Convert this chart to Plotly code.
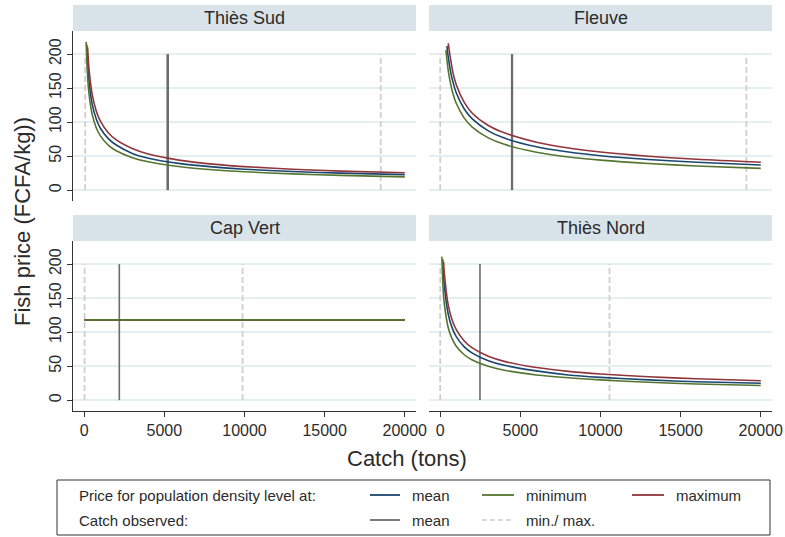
import plotly.graph_objects as go
from plotly.subplots import make_subplots

# ---------------- data ----------------
regions = ["Thiès Sud", "Fleuve", "Cap Vert", "Thiès Nord"]

# Thiès Sud price curves (catch in tons, price FCFA/kg)
ts_mean_q = [160, 220, 300, 500, 750, 1000, 1500, 2000, 3000, 4000, 6000, 8000, 10000, 13000, 16000, 20000]
ts_mean_p = [214, 184.6, 159.8, 126, 104.5, 91.4, 75.8, 66.3, 54, 47, 39, 34.2, 30.8, 27.3, 25, 22.8]
ts_min_q = [120, 200, 300, 500, 750, 1000, 1500, 2000, 3000, 4000, 6000, 8000, 10000, 13000, 16000, 20000]
ts_min_p = [218, 171.3, 141.5, 111, 91.8, 80.1, 66.2, 57.8, 47.7, 41.6, 34.4, 30.0, 27.0, 23.9, 21.7, 19.5]
ts_max_q = [210, 300, 500, 750, 1000, 1500, 2000, 3000, 4000, 6000, 8000, 10000, 13000, 16000, 20000]
ts_max_p = [210, 178, 140.5, 116.5, 101.9, 84.5, 73.9, 61.3, 53, 43.8, 38.3, 34.6, 30.8, 28, 25.5]

# Fleuve
fl_mean_q = [420, 500, 650, 800, 1000, 1500, 2000, 3000, 4000, 6000, 8000, 10000, 13000, 16000, 20000]
fl_mean_p = [212, 196, 174, 158.5, 143.2, 119.3, 104.7, 87.2, 76.5, 63.7, 56.0, 50.6, 45.0, 40.9, 37]
fl_min_q = [355, 500, 650, 800, 1000, 1500, 2000, 3000, 4000, 6000, 8000, 10000, 13000, 16000, 20000]
fl_min_p = [206, 176, 155.8, 141.5, 127.7, 105.9, 92.7, 76.8, 67.3, 55.8, 48.8, 44.1, 39.1, 35.5, 32]
fl_max_q = [500, 650, 800, 1000, 1500, 2000, 3000, 4000, 6000, 8000, 10000, 13000, 16000, 20000]
fl_max_p = [216, 191.9, 172, 155, 129, 113, 95, 84.2, 70.5, 61.9, 56.0, 49.8, 45.3, 41]

# Cap Vert (flat)
cv_mean_q = [0, 20000]
cv_mean_p = [118, 118]
cv_min_q = [0, 20000]
cv_min_p = [118, 118]
cv_max_q = [0, 20000]
cv_max_p = [118, 118]

# Thiès Nord
tn_mean_q = [160, 250, 500, 750, 1000, 1500, 2000, 3000, 4000, 6000, 8000, 10000, 13000, 16000, 20000]
tn_mean_p = [207, 170.5, 126.3, 105.9, 93.4, 78.4, 69.2, 58.0, 51.2, 43.0, 37, 33.5, 29.8, 27, 24.8]
tn_min_q = [100, 170, 250, 500, 750, 1000, 1500, 2000, 3000, 4000, 6000, 8000, 10000, 13000, 16000, 20000]
tn_min_p = [211, 168.4, 143, 106.5, 89.6, 79.3, 66.7, 59.0, 49.7, 44.0, 37.0, 32.8, 29.8, 26.2, 23.8, 21.5]
tn_max_q = [210, 250, 500, 750, 1000, 1500, 2000, 3000, 4000, 6000, 8000, 10000, 13000, 16000, 20000]
tn_max_p = [203, 188.4, 139.6, 117.3, 103.6, 87.0, 76.8, 64.5, 57.0, 47.9, 42.3, 38.4, 34.3, 31.4, 28.5]

# observed catch (tons)
catch_min = [60, 0, 20, 0]
catch_mean = [5210, 4480, 2190, 2480]
catch_max = [18500, 19100, 9880, 10560]
vline_p = [0, 200]

x_ticks = [0, 5000, 10000, 15000, 20000]
x_tick_labels = ["0", "5000", "10000", "15000", "20000"]
y_ticks = [0, 50, 100, 150, 200]
y_tick_labels = ["0", "50", "100", "150", "200"]

curves = {
    "Thiès Sud": [(ts_mean_q, ts_mean_p, "mean"), (ts_max_q, ts_max_p, "max"), (ts_min_q, ts_min_p, "min")],
    "Fleuve": [(fl_mean_q, fl_mean_p, "mean"), (fl_max_q, fl_max_p, "max"), (fl_min_q, fl_min_p, "min")],
    "Cap Vert": [(cv_mean_q, cv_mean_p, "mean"), (cv_max_q, cv_max_p, "max"), (cv_min_q, cv_min_p, "min")],
    "Thiès Nord": [(tn_mean_q, tn_mean_p, "mean"), (tn_max_q, tn_max_p, "max"), (tn_min_q, tn_min_p, "min")],
}

# ---------------- style ----------------
W, H = 785, 537
ML, MR, MT, MB = 73, 13, 5, 126
FONT = "Liberation Sans, Arial, sans-serif"
TXT = "#2b2b2b"
COL = {"mean": "#1a476f", "min": "#55752f", "max": "#90353b"}
MEAN_CATCH_COL = "#6c6c6c"
MINMAX_COL = "#cfcfcf"
GRID = "#e6eff0"
STRIP = "#d9e3ea"
mean_catch_width = [2.6, 2.3, 1.6, 1.6]


def px_x(px):
    return (px - ML) / (W - ML - MR)


def px_y(py):
    return (H - MB - py) / (H - MT - MB)


fig = make_subplots(rows=2, cols=2)

pos = [(1, 1), (1, 2), (2, 1), (2, 2)]
for i, reg in enumerate(regions):
    r, c = pos[i]
    for cx in (catch_min[i], catch_max[i]):
        fig.add_trace(go.Scatter(x=[cx, cx], y=vline_p, mode="lines",
                                 line=dict(color=MINMAX_COL, width=1.8, dash="6px,3px"),
                                 showlegend=False, hoverinfo="skip"), row=r, col=c)
    fig.add_trace(go.Scatter(x=[catch_mean[i], catch_mean[i]], y=vline_p, mode="lines",
                             line=dict(color=MEAN_CATCH_COL, width=mean_catch_width[i]),
                             showlegend=False, hoverinfo="skip"), row=r, col=c)
    for q, p, k in curves[reg]:
        fig.add_trace(go.Scatter(x=q, y=p, mode="lines",
                                 line=dict(color=COL[k], width=1.6, shape="spline", smoothing=0.8),
                                 showlegend=False), row=r, col=c)

xdom_l = [0, px_x(416)]
xdom_r = [px_x(429), 1]
ydom_t = [px_y(201), px_y(31)]
ydom_b = [0, px_y(241)]

axis_common_x = dict(range=[-700, 20700], showgrid=False, zeroline=False, automargin=False,
                     tickmode="array", tickvals=x_ticks, ticktext=x_tick_labels,
                     tickfont=dict(size=16, color=TXT, family=FONT))
axis_common_y = dict(range=[-16, 234], showgrid=True, gridcolor=GRID, gridwidth=1.5, zeroline=False,
                     automargin=False, tickmode="array", tickvals=y_ticks, ticktext=y_tick_labels,
                     tickfont=dict(size=16, color=TXT, family=FONT))

layout_axes = {}
for i in range(4):
    r, c = pos[i]
    n = "" if i == 0 else str(i + 1)
    xa = dict(axis_common_x, domain=xdom_l if c == 1 else xdom_r, anchor="y" + n)
    ya = dict(axis_common_y, domain=ydom_t if r == 1 else ydom_b, anchor="x" + n)
    if r == 2:
        xa.update(showline=True, linecolor="#333333", linewidth=1.2, ticks="outside", ticklen=5,
                  tickcolor="#333333", showticklabels=True)
    else:
        xa.update(showline=False, ticks="", showticklabels=False)
    if c == 1:
        ya.update(showline=True, linecolor="#333333", linewidth=1.2, ticks="outside", ticklen=5,
                  tickcolor="#333333", showticklabels=True, tickangle=-90)
    else:
        ya.update(showline=False, ticks="", showticklabels=False)
    layout_axes["xaxis" + n] = xa
    layout_axes["yaxis" + n] = ya

fig.update_layout(**layout_axes)

shapes = []
annotations = []
strip_boxes = [
    (0, px_x(416), px_y(31), px_y(5)),
    (px_x(429), 1, px_y(31), px_y(5)),
    (0, px_x(416), px_y(241), px_y(215)),
    (px_x(429), 1, px_y(241), px_y(215)),
]
for reg, (x0, x1, y0, y1) in zip(regions, strip_boxes):
    shapes.append(dict(type="rect", xref="paper", yref="paper", x0=x0, x1=x1, y0=y0, y1=y1,
                       fillcolor=STRIP, line=dict(width=0)))
    annotations.append(dict(text=reg, xref="paper", yref="paper", x=(x0 + x1) / 2, y=(y0 + y1) / 2,
                            showarrow=False, xanchor="center", yanchor="middle",
                            font=dict(size=18, color=TXT, family=FONT)))

annotations.append(dict(text="Catch (tons)", xref="paper", yref="paper", x=px_x(407), y=px_y(458),
                        showarrow=False, xanchor="center", yanchor="middle",
                        font=dict(size=22, color=TXT, family=FONT)))
annotations.append(dict(text="Fish price (FCFA/kg))", xref="paper", yref="paper", x=px_x(22), y=px_y(222),
                        showarrow=False, xanchor="center", yanchor="middle", textangle=-90,
                        font=dict(size=22, color=TXT, family=FONT)))

shapes.append(dict(type="rect", xref="paper", yref="paper", x0=px_x(57), x1=px_x(770),
                   y0=px_y(535), y1=px_y(480), line=dict(color="#333333", width=1), fillcolor="white"))
LF = dict(size=15, color=TXT, family=FONT)
row1, row2 = 495, 520
annotations.append(dict(text="Price for population density level at:", xref="paper", yref="paper",
                        x=px_x(77), y=px_y(row1), xanchor="left", yanchor="middle", showarrow=False, font=LF))
annotations.append(dict(text="Catch observed:", xref="paper", yref="paper",
                        x=px_x(77), y=px_y(row2), xanchor="left", yanchor="middle", showarrow=False, font=LF))
legend_items = [
    (370, 400, row1, COL["mean"], None, 1.8, "mean"),
    (482, 514, row1, COL["min"], None, 1.8, "minimum"),
    (632, 664, row1, COL["max"], None, 1.8, "maximum"),
    (370, 400, row2, MEAN_CATCH_COL, None, 1.8, "mean"),
    (482, 514, row2, MINMAX_COL, "dash", 1.6, "min./ max."),
]
for x0, x1, yy, col, dash, w, label in legend_items:
    ln = dict(color=col, width=w)
    if dash:
        ln["dash"] = "5px,3px"
    shapes.append(dict(type="line", xref="paper", yref="paper", x0=px_x(x0), x1=px_x(x1),
                       y0=px_y(yy), y1=px_y(yy), line=ln))
    annotations.append(dict(text=label, xref="paper", yref="paper", x=px_x(x1 + 10), y=px_y(yy),
                            xanchor="left", yanchor="middle", showarrow=False, font=LF))

fig.update_layout(
    width=W, height=H,
    margin=dict(l=ML, r=MR, t=MT, b=MB, autoexpand=False),
    paper_bgcolor="white", plot_bgcolor="white",
    showlegend=False,
    shapes=shapes, annotations=annotations,
    font=dict(family=FONT, color=TXT),
)

fig.write_html("out.html", config={"displayModeBar": False},
               post_script="document.body.style.margin='0';document.body.style.padding='0';")
